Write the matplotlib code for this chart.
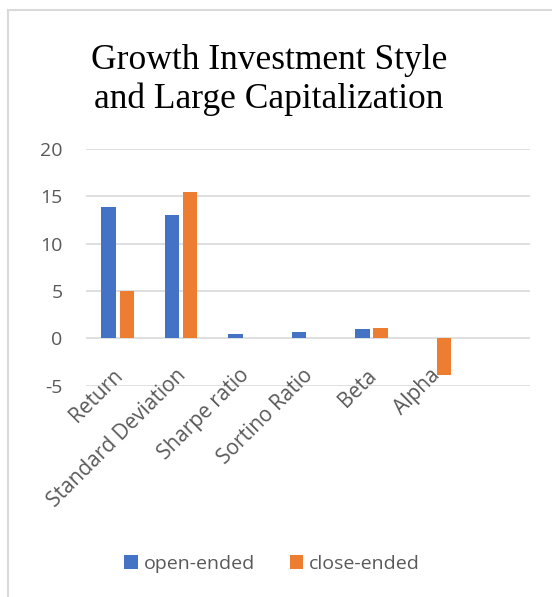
import matplotlib.pyplot as plt
import numpy as np
from matplotlib.patches import Rectangle

# metrics compared for the two fund types
categories = ['Return', 'Standard Deviation', 'Sharpe ratio', 'Sortino Ratio', 'Beta', 'Alpha']
open_ended = [13.9, 13.0, 0.45, 0.65, 0.95, 0.08]
close_ended = [5.05, 15.5, 0.0, 0.0, 1.1, -3.85]
series_names = ['open-ended', 'close-ended']
yticks = [-5, 0, 5, 10, 15, 20]

W, H, DPI = 552, 597, 100
fig = plt.figure(figsize=(W / DPI, H / DPI), dpi=DPI)
fig.patch.set_facecolor('white')

# thin frame around the chart area
fig.patches.append(Rectangle((8 / W, -0.1), 1.2, 1 - 10 / H + 0.1,
                             transform=fig.transFigure, fill=False,
                             edgecolor='#d9d9d9', linewidth=1.5))

ax = fig.add_axes([86 / W, 1 - 385.7 / H, (530 - 86) / W, (385.7 - 149) / H])

x = np.arange(len(categories))
w = 0.226
off = 0.143
ax.bar(x - off, open_ended, w, color='#4472C4', label=series_names[0], zorder=3)
ax.bar(x + off, close_ended, w, color='#ED7D31', label=series_names[1], zorder=3)

ax.set_xlim(-0.5, 6.5)
ax.set_ylim(-5, 20)
ax.set_yticks(yticks)
ax.yaxis.grid(True, color='#d9d9d9', linewidth=1.2)
ax.set_axisbelow(True)
for s in ax.spines.values():
    s.set_visible(False)

tick_font = dict(family='Open Sans', size=14, color='#595959')
ax.tick_params(axis='y', length=0, pad=17)
ax.set_yticklabels([str(t) for t in yticks], **tick_font)

ax.set_xticks(x)
ax.set_xticklabels([])
ax.tick_params(axis='x', length=0)
for xi, lab in zip(x, categories):
    ax.text(xi - 0.09, -2.8, lab, rotation=45, ha='right', va='top',
            rotation_mode='anchor', clip_on=False,
            family='Open Sans', size=15, color='#595959')

fig.text(269 / W, 1 - 80 / H, 'Growth Investment Style\nand Large Capitalization',
         ha='center', va='center', family='Liberation Serif', fontsize=25.5,
         linespacing=1.22, color='black')

fig.legend(loc='center', bbox_to_anchor=(272 / W, 1 - 564 / H), ncol=2,
           frameon=False, prop=dict(family='Open Sans', size=14),
           labelcolor='#595959', handlelength=0.7, handleheight=0.7,
           handletextpad=0.3, columnspacing=1.8)

fig.savefig('out.png', dpi=DPI)
